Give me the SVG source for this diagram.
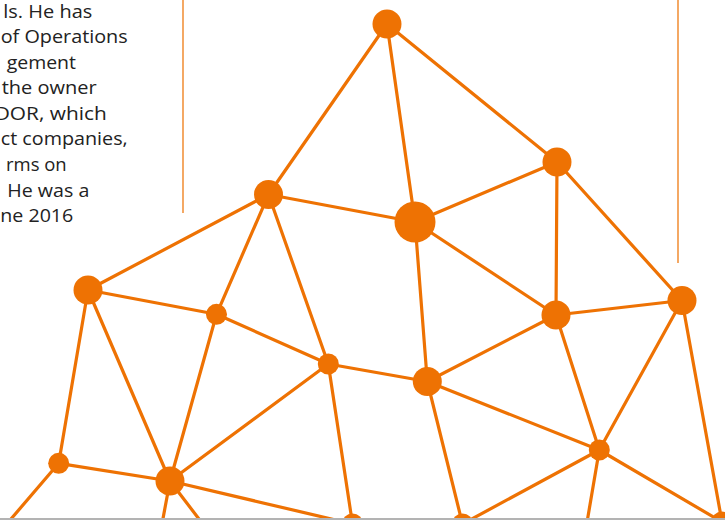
<svg xmlns="http://www.w3.org/2000/svg" width="725" height="520" viewBox="0 0 725 520">
  <style>
    .bio { font-family: "Open Sans", "Noto Sans", "DejaVu Sans", sans-serif; font-size: 18px; fill: #222222; }
    .rule { stroke: #EF7A12; stroke-width: 1.3; fill: none; }
    .edge { stroke: #EE7203; stroke-width: 3.2; stroke-linecap: round; fill: none; }
    .node { fill: #EE7203; }
  </style>

  <rect x="0" y="0" width="725" height="520" fill="#ffffff"/>

  <!-- biography text, running off the left edge -->
  <g id="bio-text" class="bio" text-anchor="end">
    <text x="92.3" y="17.5" textLength="89" lengthAdjust="spacingAndGlyphs">ls. He has</text>
    <text x="127.7" y="43" textLength="127" lengthAdjust="spacingAndGlyphs">of Operations</text>
    <text x="76" y="68.6" textLength="69.3" lengthAdjust="spacingAndGlyphs">gement</text>
    <text x="96.7" y="94.2" textLength="95" lengthAdjust="spacingAndGlyphs">the owner</text>
    <text x="106.7" y="119.8" textLength="112" lengthAdjust="spacingAndGlyphs">DOR, which</text>
    <text x="127.7" y="145.4" textLength="127" lengthAdjust="spacingAndGlyphs">ct companies,</text>
    <text x="66.7" y="171" textLength="60.7" lengthAdjust="spacingAndGlyphs">rms on</text>
    <text x="89.3" y="196.6" textLength="82" lengthAdjust="spacingAndGlyphs">He was a</text>
    <text x="73.3" y="222.2" textLength="73" lengthAdjust="spacingAndGlyphs">ne 2016</text>
  </g>

  <!-- thin vertical rules -->
  <g id="rules">
    <line class="rule" x1="183" y1="0" x2="183" y2="213"/>
    <line class="rule" x1="678" y1="0" x2="678" y2="263"/>
  </g>

  <!-- network connectors -->
  <g id="connectors" class="edge">
    <line x1="387" y1="24" x2="268.5" y2="194.5"/>
    <line x1="387" y1="24" x2="415" y2="222"/>
    <line x1="387" y1="24" x2="557" y2="162"/>
    <line x1="557" y1="162" x2="415" y2="222"/>
    <line x1="557" y1="162" x2="556" y2="315"/>
    <line x1="557" y1="162" x2="682" y2="300.5"/>
    <line x1="268.5" y1="194.5" x2="415" y2="222"/>
    <line x1="268.5" y1="194.5" x2="88" y2="290"/>
    <line x1="268.5" y1="194.5" x2="216.5" y2="314.3"/>
    <line x1="268.5" y1="194.5" x2="328.3" y2="364"/>
    <line x1="415" y1="222" x2="556" y2="315"/>
    <line x1="415" y1="222" x2="427.3" y2="381.5"/>
    <line x1="88" y1="290" x2="216.5" y2="314.3"/>
    <line x1="88" y1="290" x2="58.7" y2="463.3"/>
    <line x1="88" y1="290" x2="170" y2="481"/>
    <line x1="216.5" y1="314.3" x2="328.3" y2="364"/>
    <line x1="216.5" y1="314.3" x2="170" y2="481"/>
    <line x1="328.3" y1="364" x2="427.3" y2="381.5"/>
    <line x1="328.3" y1="364" x2="170" y2="481"/>
    <line x1="328.3" y1="364" x2="352.5" y2="524"/>
    <line x1="427.3" y1="381.5" x2="556" y2="315"/>
    <line x1="427.3" y1="381.5" x2="599.3" y2="450"/>
    <line x1="427.3" y1="381.5" x2="462.5" y2="524"/>
    <line x1="556" y1="315" x2="599.3" y2="450"/>
    <line x1="556" y1="315" x2="682" y2="300.5"/>
    <line x1="682" y1="300.5" x2="599.3" y2="450"/>
    <line x1="682" y1="300.5" x2="722" y2="522"/>
    <line x1="599.3" y1="450" x2="462.5" y2="524"/>
    <line x1="599.3" y1="450" x2="584" y2="540"/>
    <line x1="599.3" y1="450" x2="722" y2="522"/>
    <line x1="58.7" y1="463.3" x2="170" y2="481"/>
    <line x1="58.7" y1="463.3" x2="-7" y2="540"/>
    <line x1="170" y1="481" x2="352.5" y2="524"/>
    <line x1="170" y1="481" x2="159" y2="540"/>
    <line x1="170" y1="481" x2="215" y2="540"/>
  </g>

  <!-- network nodes -->
  <g id="node-a"><circle class="node" cx="387" cy="24" r="14.5"/></g>
  <g id="node-b"><circle class="node" cx="268.5" cy="194.5" r="14.5"/></g>
  <g id="node-c"><circle class="node" cx="415" cy="222" r="20.5"/></g>
  <g id="node-d"><circle class="node" cx="557" cy="162" r="14.5"/></g>
  <g id="node-e"><circle class="node" cx="556" cy="315" r="14.5"/></g>
  <g id="node-f"><circle class="node" cx="682" cy="300.5" r="14.5"/></g>
  <g id="node-g"><circle class="node" cx="88" cy="290" r="14.5"/></g>
  <g id="node-h"><circle class="node" cx="216.5" cy="314.3" r="10.5"/></g>
  <g id="node-i"><circle class="node" cx="328.3" cy="364" r="10.5"/></g>
  <g id="node-j"><circle class="node" cx="427.3" cy="381.5" r="14.5"/></g>
  <g id="node-k"><circle class="node" cx="599.3" cy="450" r="10.5"/></g>
  <g id="node-l"><circle class="node" cx="58.7" cy="463.3" r="10.5"/></g>
  <g id="node-m"><circle class="node" cx="170" cy="481" r="14.5"/></g>
  <g id="node-n"><circle class="node" cx="352.5" cy="524" r="10.5"/></g>
  <g id="node-o"><circle class="node" cx="462.5" cy="524" r="10.5"/></g>
  <g id="node-p"><circle class="node" cx="722" cy="522" r="10.5"/></g>

  <!-- grey baseline along the bottom edge -->
  <rect id="baseline" x="0" y="518" width="725" height="2" fill="#B3B3B3"/>
</svg>
